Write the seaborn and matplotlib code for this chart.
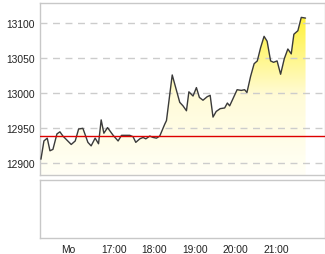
import numpy as np
import pandas as pd
import matplotlib
matplotlib.use("Agg")
import matplotlib.pyplot as plt
import seaborn as sns
from matplotlib.colors import LinearSegmentedColormap

# minutes after 15:00
minutes = [12.4, 16.8, 21.7, 25.7, 30.1, 36.0, 40.4, 44.8, 57.1, 63.0, 68.0, 74.3, 81.7, 86.5,
           92.4, 97.4, 101.3, 105.3, 110.7, 119.0, 126.3, 131.3, 143.6, 148.4, 152.4, 158.3,
           163.2, 167.2, 173.1, 177.9, 182.9, 187.8, 195.2, 197.7, 206.2, 217.3, 222.1, 227.2,
           230.8, 236.9, 241.9, 246.3, 251.6, 257.8, 262.2, 266.4, 271.1, 277.0, 283.6, 287.6,
           291.0, 295.8, 302.0, 308.2, 313.1, 316.5, 321.9, 327.1, 331.8, 336.7, 341.8, 346.3,
           351.4, 355.8, 361.0, 366.2, 371.6, 376.9, 381.9, 385.8, 391.7, 396.7, 403.0]
prices = [12906, 12932, 12936, 12918, 12920, 12942, 12945, 12939, 12927, 12932, 12949, 12950,
          12930, 12925, 12936, 12928, 12962, 12943, 12951, 12940, 12932, 12940, 12940, 12938,
          12930, 12935, 12937, 12935, 12939, 12937, 12936, 12939, 12956, 12961, 13026, 12987,
          12982, 12975, 13002, 12996, 13008, 12994, 12990, 12995, 12997, 12966, 12974, 12978,
          12979, 12986, 12982, 12992, 13005, 13004, 13005, 13001, 13024, 13042, 13046, 13065,
          13081, 13074, 13046, 13044, 13046, 13027, 13049, 13063, 13056, 13084, 13089, 13108,
          13107]
ref_level = 12939.6
y_ticks = [12900, 12950, 13000, 13050, 13100]
x_tick_pos = [52, 120, 180, 240, 300, 360]
x_tick_labels = ["Mo", "17:00", "18:00", "19:00", "20:00", "21:00"]

df = pd.DataFrame({"t": minutes, "p": prices})

sns.set_style("white")
plt.rcParams["font.family"] = ["Liberation Sans", "DejaVu Sans"]

fig = plt.figure(figsize=(3.25, 2.55), dpi=100)
ax = fig.add_axes([40/325, (255-176)/255, 284.5/325, 172.5/255])
ax2 = fig.add_axes([40/325, (255-239)/255, 284.5/325, 58/255])

xmin, xmax = 11.0, 431.0
ymin, ymax = 12883.5, 13129.2

# gradient fill under the line
cmap = LinearSegmentedColormap.from_list("yel", ["#fffff6", "#fffbd8", "#fff23a"])
grad = np.linspace(0, 1, 256).reshape(-1, 1)
top = max(prices)
im = ax.imshow(grad, aspect="auto", cmap=cmap, origin="lower",
               extent=[min(minutes), max(minutes), ymin, top], zorder=1)
poly = ax.fill_between(df["t"], df["p"], ymin, color="none", lw=0)
clip = poly.get_paths()[0]
im.set_clip_path(clip, transform=ax.transData)

sns.lineplot(data=df, x="t", y="p", ax=ax, color="#3a3a3a", lw=1.0, zorder=3)
ax.axhline(ref_level, color="#dd0000", lw=1.0, zorder=4)

ax.set_xlim(xmin, xmax)
ax.set_ylim(ymin, ymax)
ax.set_yticks(y_ticks)
ax.set_yticklabels([str(v) for v in y_ticks])
ax.set_xticks([])
ax.set_xlabel("")
ax.set_ylabel("")
ax.yaxis.grid(True, color="#cccccc", lw=1.0, linestyle=(0, (5, 4)), zorder=2)
ax.set_axisbelow(False)
for gl in ax.get_ygridlines():
    gl.set_zorder(2)
ax.tick_params(axis="y", length=0, pad=4, labelsize=7.4, colors="#222222")

ax2.set_xlim(xmin, xmax)
ax2.set_ylim(0, 1)
ax2.set_yticks([])
ax2.set_xticks(x_tick_pos)
ax2.set_xticklabels(x_tick_labels)
ax2.tick_params(axis="x", length=0, pad=4, labelsize=7.4, colors="#222222")

for a in (ax, ax2):
    for s in a.spines.values():
        s.set_color("#c8c8c8")
        s.set_linewidth(1.0)
        s.set_visible(True)

fig.savefig("out.png", dpi=100)
